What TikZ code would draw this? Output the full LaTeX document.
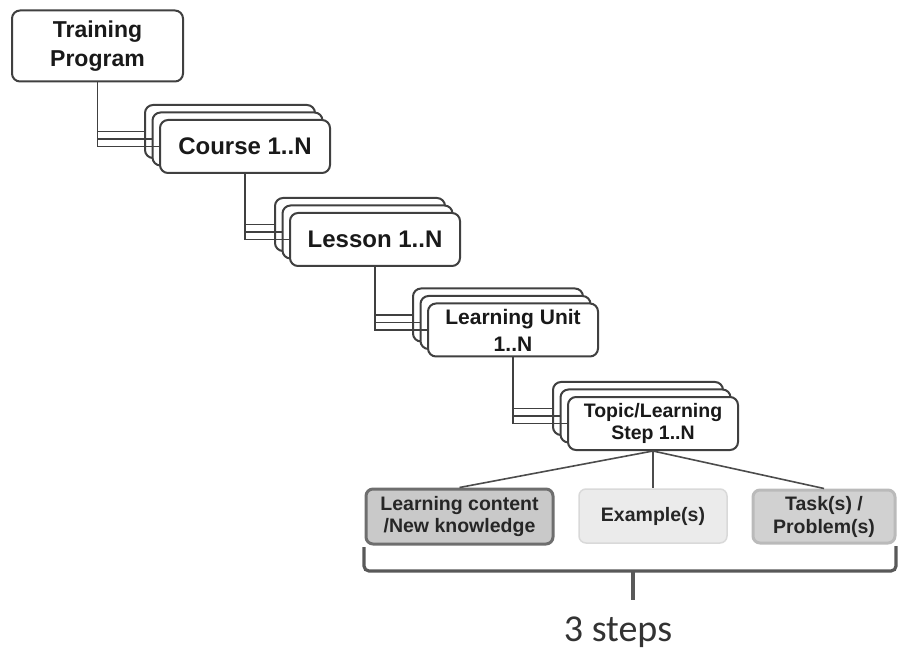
\documentclass[tikz,border=0pt]{standalone}
\usepackage{fontspec}
\setmainfont{Liberation Sans}
\newfontfamily\stepsfont{Carlito}
\begin{document}
\begin{tikzpicture}[x=1pt,y=-1pt,
  boxline/.style={draw=black!75,line width=2pt,rounded corners=8pt,fill=white},
  stackbox/.style={boxline,minimum width=170pt,minimum height=53pt,inner sep=0pt,align=center,text=black!90},
  conn/.style={draw=black!75,line width=1.9pt},
  leafbox/.style={rounded corners=7pt,inner sep=0pt,align=center,text=black!85,font=\bfseries\fontsize{19.5}{23}\selectfont},
  brace/.style={draw=black!65,line width=3.2pt,rounded corners=5pt}]
\useasboundingbox (0,0) rectangle (900,652);

\newcommand\stackbox[5]{%
  \node[stackbox] (#1-b) at (#2-15,#3-15) {};
  \node[stackbox] (#1-m) at (#2-7.5,#3-7.5) {};
  \node[stackbox,font=#5] (#1) at (#2,#3) {#4};
}

\node[boxline,minimum width=171pt,minimum height=71pt,inner sep=0pt,align=center,text=black!90,
  font=\bfseries\fontsize{23}{29}\selectfont] (tp) at (97.5,46) {Training\\Program};

\stackbox{course}{245}{146.5}{Course 1..N}{\bfseries\fontsize{24}{28}\selectfont}
\stackbox{lesson}{375}{239.5}{Lesson 1..N}{\bfseries\fontsize{24}{28}\selectfont}
\stackbox{unit}{513}{330}{Learning Unit\\1..N}{\bfseries\fontsize{21}{27}\selectfont}
\stackbox{topic}{653}{423.5}{Topic/Learning\\Step 1..N}{\bfseries\fontsize{19.5}{22}\selectfont}

\foreach \p/\c in {tp/course,course/lesson,lesson/unit,unit/topic}{
  \draw[conn] (\p.south) |- (\c-b.west);
  \draw[conn] (\p.south) |- (\c-m.west);
  \draw[conn] (\p.south) |- (\c.west);
}

\node[leafbox,fill=black!21,draw=black!57,line width=3pt,minimum width=187pt,minimum height=55pt] (lc) at (459.5,516.5) {Learning content\\/New knowledge};
\node[leafbox,fill=black!8,draw=black!15,line width=1.5pt,minimum width=148pt,minimum height=54pt] (ex) at (653,516) {Example(s)};
\node[leafbox,fill=black!18,draw=black!27,line width=3pt,minimum width=142pt,minimum height=53pt] (task) at (824,516.5) {Task(s) /\\Problem(s)};

\draw[conn,draw=black!70,line width=1.6pt] (topic.south) -- (lc.north);
\draw[conn,draw=black!70,line width=1.6pt] (topic.south) -- (ex.north);
\draw[conn,draw=black!70,line width=1.6pt] (topic.south) -- (task.north);

% brace
\coordinate (bl) at (364,547);
\coordinate (br) at (896,546);
\coordinate (bm) at (633,571);
\coordinate (bt) at (633,600);
\draw[brace] (bl) |- (bm) -| (br);
\draw[brace,rounded corners=0pt] (bm) -- (bt);

\node[font=\stepsfont\fontsize{38}{44}\selectfont,text=black!80] (steps) at (618,632) {3 steps};
\end{tikzpicture}
\end{document}
